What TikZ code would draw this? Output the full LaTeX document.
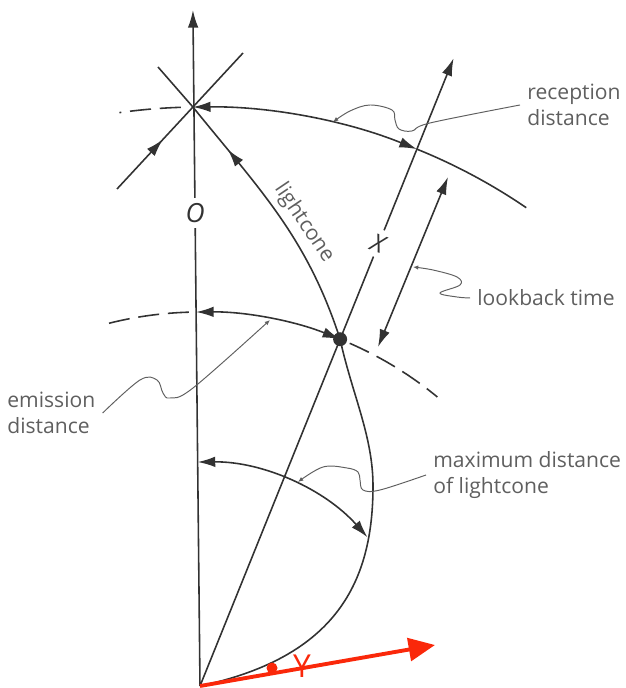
\documentclass[tikz,border=0pt]{standalone}
\usepackage{fontspec}
\setmainfont{Open Sans}
\usepackage{tikz}
\usetikzlibrary{
  arrows.meta,
  decorations.markings
}
\definecolor{InkGray}{RGB}{50, 50, 50}
\definecolor{LabelGray}{RGB}{95, 95, 95}
\definecolor{AxisRed}{RGB}{250, 40, 10}
\tikzset{
    >={Latex[length=10pt,width=6pt]},
    worldline/.style={draw=InkGray, line width=0.9pt},
    shell/.style={draw=InkGray, line width=0.9pt},
    shelldash/.style={shell, dash pattern=on 12pt off 5pt},
    leader/.style={draw=LabelGray, line width=0.55pt, -{Latex[length=3pt,width=2.5pt]}},
    caption/.style={text=LabelGray, font=\fontsize{12}{14.5}\selectfont, align=left, inner sep=4pt},
    midarrow/.style={postaction={decorate, decoration={markings, mark=at position #1 with {\arrow{>}}}}},
}

\begin{document}
\begin{tikzpicture}[x=0.02cm, y=0.02cm]
    \useasboundingbox (-200,-2) rectangle (425,686);
    % events
    \coordinate (B) at (0,0);
    \coordinate (E) at (90.7:579);
    \coordinate (D) at (68:374);
    \coordinate (M) at (173,200);
    \coordinate (Otop) at (90.6:676);
    \coordinate (Xtop) at (68:677);
    \coordinate (RX) at (68:579);
    \coordinate (EO) at (90.6:374);
    \coordinate (MO) at (90.6:224);
    \coordinate (C1) at (-42,619);
    \coordinate (C2a) at (-83,497);
    \coordinate (C2b) at (43,633);
    \coordinate (LB1) at (178,339);
    \coordinate (LB2) at (248,509);
    \coordinate (Ytip) at (235,41);

    % world lines
    \draw[worldline, ->] (B) -- node[pos=0.70, fill=white, inner sep=3pt, text=InkGray, font=\fontsize{15}{15}\selectfont] (olabel) {\textit{O}} (Otop);
    \draw[worldline, ->] (B) -- node[pos=0.705, fill=white, inner sep=3pt, rotate=-20, text=InkGray, font=\fontsize{14}{14}\selectfont] (xlabel) {\textit{X}} (Xtop);

    % lightcone
    \draw[worldline, midarrow=-1.1cm] (B) .. controls (137,29) and (173,105) .. (M)
        .. controls (173,250) and (152,292) .. (D) to[out=108, in=-51] (E);
    \draw[worldline] (E) -- (C1);
    \draw[worldline, midarrow=1.35cm] (C2a) -- (E) -- (C2b);
    \node[caption, rotate=-56, inner sep=1pt] (conelabel) at (104,463) {lightcone};

    % reception distance
    \draw[shell, <->] (E) arc[start angle=90.7, end angle=68, radius=579];
    \draw[shell] (RX) arc[start angle=68, end angle=55.7, radius=579];
    \draw[shelldash] (91.9:579) arc[start angle=91.9, end angle=98, radius=579];

    % emission distance
    \draw[shell, <->] (EO) arc[start angle=90.6, end angle=68, radius=374];
    \draw[shelldash] (91.7:374) arc[start angle=91.7, end angle=104.6, radius=374];
    \draw[shelldash] (66.4:374) arc[start angle=66.4, end angle=50.6, radius=374];

    % maximum distance
    \draw[shell, <->] (MO) arc[start angle=90.6, end angle=41.6, radius=224];

    % lookback time
    \draw[shell, <->] (LB1) -- (LB2);

    \fill[InkGray] (D) circle[radius=7];

    % labels
    \node[caption, anchor=west] (reception) at (320,581) {reception\\distance};
    \node[caption, anchor=west] (lookback) at (270,388) {lookback time};
    \node[caption, anchor=west] (emission) at (-200,273) {emission\\distance};
    \node[caption, anchor=west] (maximum) at (226,211) {maximum distance\\of lightcone};

    \draw[leader] plot[smooth, tension=0.6] coordinates {(reception.west) (230,563) (212,555) (199,557) (195,566) (192,576) (170,581) (150,575) (133,564)};
    \draw[leader] plot[smooth, tension=0.6] coordinates {(lookback.west) (257,389) (240,393) (260,401) (257,409) (233,416) (213,419)};
    \draw[leader] plot[smooth, tension=0.6] coordinates {(emission.east) (-60,306) (-43,306) (-37,293) (-30,288) (-7,298) (70,366)};
    \draw[leader] plot[smooth, tension=0.6] coordinates {(maximum.west) (180,196) (163,196) (160,206) (158,214) (147,218) (123,219) (98,204)};

    % red axis
    \draw[line width=2.2pt, AxisRed, -{Triangle[length=15pt,width=13pt]}] (B) -- (Ytip);
    \fill[AxisRed] (72,18) circle[radius=5.5];
    \node[text=AxisRed, font=\fontsize{18}{18}\selectfont, inner sep=0pt] (ylabel) at (102,20) {Y};
\end{tikzpicture}
\end{document}
